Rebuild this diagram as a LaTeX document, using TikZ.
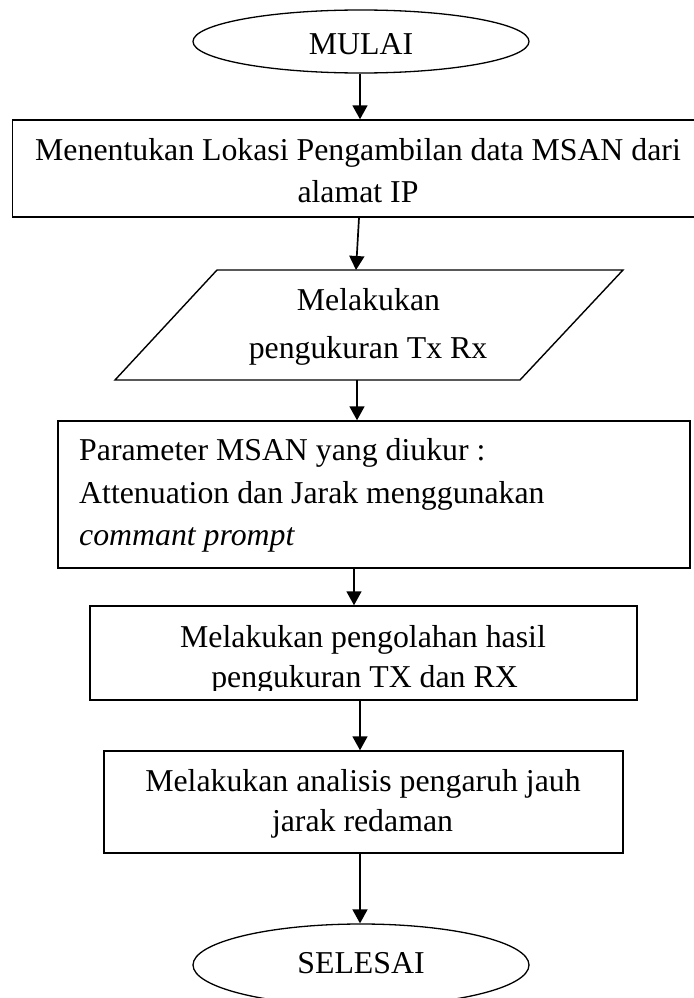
\documentclass[tikz,border=0pt]{standalone}
\usepackage{fontspec}
\setmainfont{Liberation Serif}
\usetikzlibrary{shapes.geometric,arrows.meta}
\begin{document}
\begin{tikzpicture}[x=1pt,y=-1pt,
  every node/.style={font=\fontsize{31.8}{38}\selectfont},
  box/.style={draw,line width=1.5pt,inner sep=0pt},
  ell/.style={draw,ellipse,line width=1.3pt,inner sep=0pt,text depth=0pt},
  paraline/.style={draw,line width=1.4pt,line join=miter},
  txt/.style={inner sep=0pt},
  arr/.style={line width=1.7pt,-{Triangle[length=14pt,width=15pt]}}]
\useasboundingbox (0,0) rectangle (693,998);
\fill[white] (0,0) rectangle (693,998);

% start
\node[ell,minimum width=336pt,minimum height=63pt,text height=27pt] (e1) at (361,41.5) {MULAI};

% box 1
\node[box,minimum width=691.3pt,minimum height=97pt] (b1) at (358.35,168.5) {};
\node[txt,anchor=base] (t1a) at (358,160) {Menentukan Lokasi Pengambilan data MSAN dari};
\node[txt,anchor=base] (t1b) at (358,202) {alamat IP};

% parallelogram
\coordinate (pTL) at (217,270);
\coordinate (pTR) at (623,270);
\coordinate (pBR) at (520,380);
\coordinate (pBL) at (115,380);
\coordinate (pIn) at (356,270);
\coordinate (pOut) at (357,380);
\draw[paraline] (pTL) -- (pTR) -- (pBR) -- (pBL) -- cycle;
\node[txt,anchor=base] (t2a) at (368.5,310) {Melakukan};
\node[txt,anchor=base] (t2b) at (368,358) {pengukuran Tx Rx};

% box 3
\node[box,minimum width=632pt,minimum height=147pt] (b3) at (374,494.5) {};
\node[txt,anchor=base west] (t3a) at (79,460) {Parameter MSAN yang diukur :};
\node[txt,anchor=base west] (t3b) at (79,503) {Attenuation dan Jarak menggunakan};
\node[txt,anchor=base west] (t3c) at (79,545) {\itshape commant prompt};

% box 4
\node[box,minimum width=547pt,minimum height=94pt] (b4) at (363.5,653) {};
\node[txt,anchor=base] (t4a) at (363,647) {Melakukan pengolahan hasil};
\begin{scope}
  \clip (0,0) rectangle (693,690);
  \node[txt,anchor=base] (t4b) at (364.5,687) {pengukuran TX dan RX};
\end{scope}

% box 5
\node[box,minimum width=519pt,minimum height=102pt] (b5) at (363.5,802) {};
\node[txt,anchor=base] (t5a) at (363,791) {Melakukan analisis pengaruh jauh};
\node[txt,anchor=base] (t5b) at (362.5,831) {jarak redaman};

% end
\node[ell,minimum width=336pt,minimum height=82pt,text height=16pt] (e2) at (361,965) {SELESAI};

% connectors
\draw[arr] ([xshift=-1pt]e1.south) -- ([xshift=1.65pt]b1.north);
\draw[arr] ([xshift=0.65pt]b1.south) -- (pIn);
\draw[arr] (pOut) -- ([xshift=-17pt]b3.north);
\draw[arr] ([xshift=-20pt]b3.south) -- ([xshift=-9.5pt]b4.north);
\draw[arr] ([xshift=-3.5pt]b4.south) -- ([xshift=-3.5pt]b5.north);
\draw[arr] ([xshift=-3.5pt]b5.south) -- ([xshift=-1pt]e2.north);
\end{tikzpicture}
\end{document}
